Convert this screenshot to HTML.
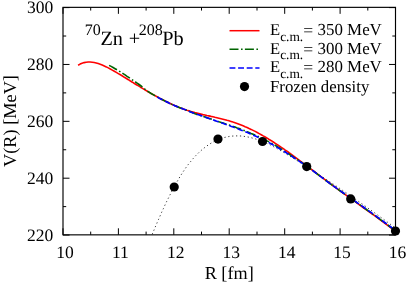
<!DOCTYPE html><html><head><meta charset="utf-8"><style>html,body{margin:0;padding:0;background:#fff}svg{display:block;will-change:transform}text{font-family:"Liberation Serif",serif;fill:#000;text-rendering:geometricPrecision}</style></head><body>
<svg width="407" height="284" viewBox="0 0 407 284">
<rect width="407" height="284" fill="#fff"/>
<path d="M152.2,234.3 L153.0,232.4 L153.8,230.5 L154.6,228.7 L155.3,226.9 L156.1,225.0 L156.9,223.2 L157.7,221.3 L158.5,219.5 L159.3,217.7 L160.1,215.9 L160.9,214.0 L161.7,212.2 L162.5,210.4 L163.4,208.6 L164.2,206.8 L165.0,205.0 L165.9,203.2 L166.7,201.4 L167.6,199.6 L168.5,197.9 L169.4,196.1 L170.3,194.3 L171.2,192.5 L172.1,190.7 L173.0,188.9 L174.0,187.2 L175.0,185.4 L175.9,183.6 L176.9,181.9 L178.0,180.1 L179.0,178.4 L180.0,176.6 L181.1,174.9 L182.2,173.2 L183.3,171.5 L184.5,169.8 L185.6,168.1 L186.8,166.4 L188.0,164.8 L189.3,163.2 L190.6,161.6 L191.9,160.0 L193.2,158.5 L194.5,157.0 L195.9,155.5 L197.3,154.1 L198.8,152.6 L200.3,151.3 L201.8,149.9 L203.4,148.6 L204.9,147.4 L206.6,146.2 L208.2,145.0 L209.9,143.9 L211.6,142.9 L213.3,141.9 L215.1,141.0 L216.9,140.2 L218.7,139.4 L220.5,138.7 L222.4,138.1 L224.3,137.5 L226.2,137.1 L228.1,136.7 L230.0,136.3 L231.9,136.1 L233.8,136.0 L235.8,135.9 L237.7,135.9 L239.7,135.9 L241.6,136.1 L243.6,136.3 L245.5,136.6 L247.5,136.9 L249.4,137.3 L251.4,137.8 L253.3,138.3 L255.2,138.8 L257.1,139.5 L259.0,140.1 L260.9,140.8 L262.8,141.6 L264.7,142.4 L266.5,143.2 L268.4,144.0 L270.2,144.9 L272.0,145.8 L273.8,146.8 L275.6,147.7 L277.3,148.7 L279.1,149.7 L280.9,150.8 L282.6,151.8 L284.4,152.8 L286.1,153.9 L287.8,154.9 L289.6,156.0 L291.3,157.1 L293.0,158.1 L294.7,159.2 L296.5,160.2 L298.2,161.3 L299.9,162.4 L301.6,163.4 L303.3,164.5 L305.0,165.6 L306.7,166.7 L308.4,167.7 L310.1,168.8 L311.8,169.9 L313.4,171.0 L315.1,172.1 L316.8,173.2 L318.5,174.3 L320.1,175.3 L321.8,176.4 L323.5,177.5 L325.1,178.6 L326.8,179.7 L328.5,180.8 L330.1,181.9 L331.8,183.1 L333.4,184.2 L335.1,185.3 L336.7,186.4 L338.4,187.5 L340.0,188.6 L341.7,189.7 L343.3,190.9 L345.0,192.0 L346.6,193.1 L348.2,194.2 L349.9,195.4 L351.5,196.5 L353.2,197.7 L354.8,198.8 L356.4,199.9 L358.1,201.1 L359.7,202.2 L361.3,203.4 L363.0,204.5 L364.6,205.7 L366.2,206.8 L367.8,208.0 L369.5,209.2 L371.1,210.3 L372.7,211.5 L374.4,212.7 L376.0,213.8 L377.6,215.0 L379.2,216.2 L380.9,217.4 L382.5,218.5 L384.1,219.7 L385.8,220.9 L387.4,222.1 L389.0,223.3 L390.7,224.5 L392.3,225.7 L393.9,226.9 L395.6,228.1" fill="none" stroke="#000" stroke-width="0.8" stroke-dasharray="1.2,2.7"/>
<path d="M78.1,65.3 L80.1,64.1 L82.1,63.2 L84.1,62.6 L86.1,62.2 L88.2,62.0 L90.2,62.0 L92.2,62.2 L94.2,62.5 L96.2,63.0 L98.2,63.6 L100.2,64.3 L102.2,65.1 L104.3,66.0 L106.3,66.9 L108.3,67.9 L110.3,69.0 L112.3,70.1 L114.3,71.2 L116.3,72.4 L118.3,73.6 L120.4,74.8 L122.4,76.0 L124.4,77.3 L126.4,78.5 L128.4,79.7 L130.4,81.0 L132.4,82.2 L134.4,83.5 L136.4,84.7 L138.5,85.9 L140.5,87.2 L142.5,88.4 L144.5,89.6 L146.5,90.8 L148.5,92.0 L150.5,93.1 L152.5,94.3 L154.6,95.4 L156.6,96.5 L158.6,97.6 L160.6,98.7 L162.6,99.8 L164.6,100.8 L166.6,101.8 L168.6,102.8 L170.7,103.8 L172.7,104.7 L174.7,105.6 L176.7,106.4 L178.7,107.3 L180.7,108.1 L182.7,108.8 L184.7,109.5 L186.7,110.2 L188.8,110.8 L190.8,111.4 L192.8,112.0 L194.8,112.6 L196.8,113.1 L198.8,113.6 L200.8,114.1 L202.8,114.6 L204.9,115.0 L206.9,115.5 L208.9,115.9 L210.9,116.4 L212.9,116.8 L214.9,117.3 L216.9,117.7 L218.9,118.2 L221.0,118.7 L223.0,119.2 L225.0,119.7 L227.0,120.3 L229.0,120.8 L231.0,121.4 L233.0,122.1 L235.0,122.7 L237.1,123.4 L239.1,124.2 L241.1,125.0 L243.1,125.8 L245.1,126.7 L247.1,127.5 L249.1,128.5 L251.1,129.4 L253.1,130.4 L255.2,131.4 L257.2,132.5 L259.2,133.6 L261.2,134.7 L263.2,135.9 L265.2,137.0 L267.2,138.2 L269.2,139.5 L271.3,140.7 L273.3,142.0 L275.3,143.3 L277.3,144.6 L279.3,146.0 L281.3,147.3 L283.3,148.7 L285.3,150.1 L287.4,151.5 L289.4,153.0 L291.4,154.4 L293.4,155.9 L295.4,157.4 L297.4,158.9 L299.4,160.4 L301.4,161.9 L303.4,163.4 L305.5,164.9 L307.5,166.4 L309.5,167.9 L311.5,169.5 L313.5,171.0 L315.5,172.5 L317.5,174.1 L319.5,175.6 L321.6,177.1 L323.6,178.6 L325.6,180.2 L327.6,181.7 L329.6,183.2 L331.6,184.7 L333.6,186.1 L335.6,187.6 L337.7,189.1 L339.7,190.6 L341.7,192.0 L343.7,193.5 L345.7,194.9 L347.7,196.4 L349.7,197.8 L351.7,199.3 L353.7,200.7 L355.8,202.2 L357.8,203.6 L359.8,205.1 L361.8,206.5 L363.8,208.0 L365.8,209.4 L367.8,210.9 L369.8,212.3 L371.9,213.8 L373.9,215.2 L375.9,216.7 L377.9,218.2 L379.9,219.6 L381.9,221.1 L383.9,222.6 L385.9,224.1 L388.0,225.6 L390.0,227.1 L392.0,228.7 L394.0,230.2 L396.0,231.8" fill="none" stroke="#f00" stroke-width="1.6" stroke-linejoin="round"/>
<path d="M109.1,65.4 L111.1,66.4 L113.1,67.5 L115.1,68.7 L117.1,69.9 L119.1,71.1 L121.1,72.3 L123.1,73.6 L125.1,74.9 L127.1,76.3 L129.1,77.6 L131.1,79.0 L133.1,80.3 L135.1,81.7 L137.1,83.1 L139.1,84.5 L141.1,86.0 L143.1,87.7 L145.1,89.4 L147.1,90.9 L149.1,92.2 L151.1,93.5 L153.1,94.6 L155.1,95.7 L157.1,96.8 L159.1,97.9 L161.1,99.0 L163.1,100.0 L165.1,101.1 L167.1,102.1 L169.1,103.0 L171.1,104.0 L173.1,104.9 L175.1,105.8 L177.1,106.6 L179.1,107.4 L181.1,108.2 L183.1,108.9 L185.1,109.6 L187.1,110.4 L189.1,111.3 L191.1,112.1 L193.1,112.9 L195.1,113.7 L197.1,114.4 L199.1,115.1 L201.1,115.8 L203.1,116.5 L205.1,117.1 L207.1,117.8 L209.1,118.5 L211.1,119.1 L213.1,119.8 L215.1,120.5 L217.1,121.1 L219.1,121.8 L221.1,122.4 L223.1,123.1 L225.1,123.8 L227.1,124.5 L229.1,125.1 L231.1,125.8 L233.1,126.4 L235.1,127.1 L237.1,127.9 L239.1,128.6 L241.1,129.4 L243.1,130.1 L245.1,130.9 L247.1,131.7 L249.1,132.5 L251.1,133.4 L253.1,134.2 L255.1,135.1 L257.1,136.0 L259.1,136.9 L261.1,137.9 L263.1,138.8 L265.1,139.8 L267.1,140.9 L269.1,141.9 L271.1,143.0 L273.1,144.2 L275.1,145.3 L277.1,146.5 L279.1,147.8 L281.1,149.0 L283.1,150.3 L285.1,151.6 L287.1,152.9 L289.1,154.2 L291.1,155.5 L293.1,156.8 L295.1,158.1 L297.1,159.4 L299.1,160.7 L301.1,162.1 L303.1,163.5 L305.1,164.9 L307.1,166.4 L309.1,167.9 L311.1,169.4 L313.1,170.9 L315.1,172.4 L317.1,173.9 L319.1,175.4 L321.1,176.9 L323.1,178.4 L325.1,179.9 L327.1,181.4 L329.1,182.8 L331.1,184.3 L333.1,185.8 L335.1,187.2 L337.1,188.7 L339.1,190.1 L341.1,191.5 L343.1,192.9 L345.1,194.3 L347.1,195.7 L349.1,197.1 L351.1,198.5 L353.1,199.9 L355.1,201.4 L357.1,202.8 L359.1,204.2 L361.1,205.7 L363.1,207.1 L365.1,208.5 L367.1,210.0 L369.1,211.4 L371.1,212.8 L373.1,214.3 L375.1,215.7 L377.1,217.2 L379.1,218.6 L381.1,220.1 L383.1,221.6 L385.1,223.0 L387.1,224.5 L389.1,226.0 L391.1,227.5 L393.1,229.0 L395.1,230.6" fill="none" stroke="#006400" stroke-width="1.6" stroke-dasharray="9,2.5,1.6,2.3"/>
<path d="M157.4,97.1 L159.4,98.2 L161.4,99.3 L163.4,100.3 L165.4,101.3 L167.4,102.3 L169.4,103.3 L171.4,104.2 L173.4,105.1 L175.4,105.9 L177.4,106.8 L179.4,107.6 L181.4,108.3 L183.4,109.1 L185.4,109.8 L187.4,110.5 L189.4,111.4 L191.4,112.2 L193.4,112.9 L195.4,113.7 L197.4,114.4 L199.4,115.1 L201.4,115.8 L203.4,116.5 L205.4,117.2 L207.4,117.9 L209.4,118.6 L211.4,119.3 L213.4,120.0 L215.4,120.7 L217.4,121.4 L219.4,122.1 L221.4,122.7 L223.4,123.4 L225.4,124.2 L227.4,124.9 L229.4,125.6 L231.4,126.4 L233.4,127.1 L235.4,127.9 L237.4,128.6 L239.4,129.4 L241.4,130.2 L243.4,131.0 L245.4,131.8 L247.4,132.6 L249.4,133.4 L251.4,134.3 L253.4,135.2 L255.4,136.1 L257.4,137.0 L259.4,138.0 L261.4,138.9 L263.4,139.9 L265.4,140.9 L267.4,141.9 L269.4,142.9 L271.4,144.0 L273.4,145.1 L275.4,146.2 L277.4,147.4 L279.4,148.6 L281.4,149.8 L283.4,151.0 L285.4,152.2 L287.4,153.5 L289.4,154.7 L291.4,156.0 L293.4,157.3 L295.4,158.7 L297.4,160.0 L299.4,161.3 L301.4,162.6 L303.4,163.9 L305.4,165.3 L307.4,166.7 L309.4,168.2 L311.4,169.6 L313.4,171.1 L315.4,172.6 L317.4,174.1 L319.4,175.6 L321.4,177.1 L323.4,178.6 L325.4,180.1 L327.4,181.6 L329.4,183.1 L331.4,184.5 L333.4,186.0 L335.4,187.4 L337.4,188.9 L339.4,190.3 L341.4,191.6 L343.4,193.0 L345.4,194.4 L347.4,195.7 L349.4,197.1 L351.4,198.5 L353.4,199.9 L355.4,201.4 L357.4,202.8 L359.4,204.2 L361.4,205.6 L363.4,207.0 L365.4,208.5 L367.4,209.9 L369.4,211.3 L371.4,212.7 L373.4,214.2 L375.4,215.6 L377.4,217.1 L379.4,218.5 L381.4,220.0 L383.4,221.5 L385.4,223.0 L387.4,224.4 L389.4,225.9 L391.4,227.4 L393.4,229.0 L395.4,230.5" fill="none" stroke="#00f" stroke-width="1.6" stroke-dasharray="5.9,2.7"/>
<circle cx="174.2" cy="187.0" r="4.6" fill="#000"/>
<circle cx="218.0" cy="139.1" r="4.6" fill="#000"/>
<circle cx="262.5" cy="141.5" r="4.6" fill="#000"/>
<circle cx="306.7" cy="166.6" r="4.6" fill="#000"/>
<circle cx="350.7" cy="198.9" r="4.6" fill="#000"/>
<circle cx="395.5" cy="231.0" r="4.6" fill="#000"/>
<rect x="63.0" y="7.35" width="332.5" height="227.5" fill="none" stroke="#000" stroke-width="1.15"/>
<path d="M63.0,234.8 v-6.5 M63.0,7.35 v6.5 M90.7,234.8 v-3.2 M90.7,7.35 v3.2 M118.4,234.8 v-6.5 M118.4,7.35 v6.5 M146.1,234.8 v-3.2 M146.1,7.35 v3.2 M173.8,234.8 v-6.5 M173.8,7.35 v6.5 M201.5,234.8 v-3.2 M201.5,7.35 v3.2 M229.2,234.8 v-6.5 M229.2,7.35 v6.5 M257.0,234.8 v-3.2 M257.0,7.35 v3.2 M284.7,234.8 v-6.5 M284.7,7.35 v6.5 M312.4,234.8 v-3.2 M312.4,7.35 v3.2 M340.1,234.8 v-6.5 M340.1,7.35 v6.5 M367.8,234.8 v-3.2 M367.8,7.35 v3.2 M395.5,234.8 v-6.5 M395.5,7.35 v6.5 M63.0,235.05 h6.5 M395.5,235.05 h-6.5 M63.0,206.62 h3.2 M395.5,206.62 h-3.2 M63.0,178.19 h6.5 M395.5,178.19 h-6.5 M63.0,149.76 h3.2 M395.5,149.76 h-3.2 M63.0,121.33 h6.5 M395.5,121.33 h-6.5 M63.0,92.89 h3.2 M395.5,92.89 h-3.2 M63.0,64.46 h6.5 M395.5,64.46 h-6.5 M63.0,36.03 h3.2 M395.5,36.03 h-3.2 M63.0,7.60 h6.5 M395.5,7.60 h-6.5" stroke="#000" stroke-width="1" fill="none"/>
<text x="65.0" y="257.9" font-size="17.5" text-anchor="middle">10</text>
<text x="120.4" y="257.9" font-size="17.5" text-anchor="middle">11</text>
<text x="175.8" y="257.9" font-size="17.5" text-anchor="middle">12</text>
<text x="231.2" y="257.9" font-size="17.5" text-anchor="middle">13</text>
<text x="286.7" y="257.9" font-size="17.5" text-anchor="middle">14</text>
<text x="342.1" y="257.9" font-size="17.5" text-anchor="middle">15</text>
<text x="397.5" y="257.9" font-size="17.5" text-anchor="middle">16</text>
<text x="53.2" y="240.8" font-size="17.5" text-anchor="end">220</text>
<text x="53.2" y="183.9" font-size="17.5" text-anchor="end">240</text>
<text x="53.2" y="127.0" font-size="17.5" text-anchor="end">260</text>
<text x="53.2" y="70.2" font-size="17.5" text-anchor="end">280</text>
<text x="53.2" y="13.3" font-size="17.5" text-anchor="end">300</text>
<text x="229.2" y="279.45" font-size="18.2" text-anchor="middle">R [fm]</text>
<text transform="translate(16.1,121) rotate(-90)" font-size="18.3" text-anchor="middle">V(R) [MeV]</text>
<text font-size="20.3" y="44.6"><tspan x="84.8" font-size="16" dy="-9.6">70</tspan><tspan x="100.4" dy="9.6">Zn</tspan><tspan x="128.7" dy="0.6">+</tspan><tspan x="138.8" font-size="16" dy="-10.2">208</tspan><tspan x="162.2" dy="9.6">Pb</tspan></text>
<path d="M229.5,30.7 H259.5" stroke="#f00" stroke-width="1.5" fill="none"/>
<text x="270" y="35.0" font-size="16.6">E<tspan font-size="13.4" dy="5.6">c.m.</tspan><tspan dy="-4.5" font-size="17.6">=</tspan><tspan dy="-1.1" dx="0.2" font-size="16.9"> 350 MeV</tspan></text>
<path d="M229.5,49.3 H259.5" stroke="#006400" stroke-width="1.5" stroke-dasharray="9,2.5,1.6,2.3" fill="none"/>
<text x="270" y="53.5" font-size="16.6">E<tspan font-size="13.4" dy="5.6">c.m.</tspan><tspan dy="-4.5" font-size="17.6">=</tspan><tspan dy="-1.1" dx="0.2" font-size="16.9"> 300 MeV</tspan></text>
<path d="M229.5,68.0 H259.5" stroke="#00f" stroke-width="1.5" stroke-dasharray="5.9,2.7" fill="none"/>
<text x="270" y="72.1" font-size="16.6">E<tspan font-size="13.4" dy="5.6">c.m.</tspan><tspan dy="-4.5" font-size="17.6">=</tspan><tspan dy="-1.1" dx="0.2" font-size="16.9"> 280 MeV</tspan></text>
<circle cx="244.5" cy="86.6" r="4.6" fill="#000"/>
<text x="270" y="92.1" font-size="16.8">Frozen density</text>
</svg></body></html>
